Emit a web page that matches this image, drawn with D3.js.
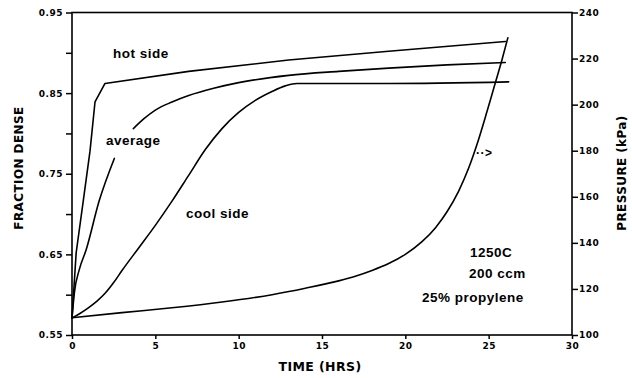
<!DOCTYPE html>
<html><head><meta charset="utf-8">
<script src="https://cdn.jsdelivr.net/npm/d3@7"></script>
<style>
html,body{margin:0;padding:0;background:#fff;}
svg{display:block;}
</style></head>
<body>
<svg id="c" width="632" height="378"></svg>
<script>
// ---- data ----
const xTicks = [0, 5, 10, 15, 20, 25, 30];
const leftMajorTicks = [0.55, 0.65, 0.75, 0.85, 0.95];
const leftMinorTicks = [0.60, 0.70, 0.80, 0.90];
const rightTicks = [100, 120, 140, 160, 180, 200, 220, 240];

const hotTime  = [0, 0.25, 0.68, 1.08, 1.38, 1.98, 7, 13, 19, 26.0];
const hotDense = [0.571, 0.652, 0.717, 0.778, 0.839, 0.862, 0.877, 0.891, 0.902, 0.914];

// null marks the break in the line where the "average" label sits
const avgTime  = [0, 0.14, 0.45, 0.84, 1.64, 2.54, 3.1, 3.68, 4.3, 5, 6, 7, 8.5, 10, 13, 16, 19, 22.5, 26.0];
const avgDense = [0.571, 0.602, 0.632, 0.655, 0.717, 0.769, null, 0.806, 0.818, 0.829, 0.839, 0.847, 0.856, 0.863, 0.872, 0.877, 0.881, 0.885, 0.888];

const coolTime  = [0, 0.5, 1, 1.5, 2, 2.5, 3, 4, 5, 6, 7, 8, 9, 10, 11, 12, 12.8, 13.5, 19, 26.2];
const coolDense = [0.571, 0.577, 0.584, 0.592, 0.602, 0.615, 0.630, 0.658, 0.686, 0.716, 0.748, 0.780, 0.806, 0.826, 0.841, 0.852, 0.859, 0.862, 0.862, 0.864];

const presTime = [0, 3, 6, 9, 12, 14, 16, 17, 18, 19, 20, 21, 21.8, 22.5, 23.2, 23.8, 24.4, 24.9, 25.4, 25.8, 26.15];
const presKPa  = [107.5, 109.7, 111.8, 114.3, 117.5, 120.3, 123.5, 125.5, 128, 131, 135, 140.5, 146.5, 153.5, 162.5, 172.5, 185, 197, 209.5, 219.5, 229];

const curveLabels = ["hot side", "average", "cool side"];
const noteLines = ["1250C", "200 ccm", "25% propylene"];
const arrowText = "··>";

// ---- layout ----
const svg = d3.select("#c");
const X0 = 72, X1 = 572, Y0 = 335, Y1 = 12.5;
const x = d3.scaleLinear().domain([0, 30]).range([X0, X1]);
const yL = d3.scaleLinear().domain([0.55, 0.95]).range([Y0, Y1]);
const yR = d3.scaleLinear().domain([100, 240]).range([Y0, Y1]);

const tickFont = "'DejaVu Sans', sans-serif";
const labFont = "'Liberation Sans', Arial, sans-serif";

// frame
svg.append("rect").attr("x", X0).attr("y", Y1).attr("width", X1 - X0).attr("height", Y0 - Y1)
  .attr("fill", "none").attr("stroke", "#000").attr("stroke-width", 1.6);

function styleAxis(g) {
  g.select(".domain").remove();
  g.selectAll(".tick line").attr("stroke", "#000").attr("stroke-width", 1.5);
  g.selectAll(".tick text").attr("fill", "#000").attr("font-family", tickFont)
    .attr("font-weight", "bold").attr("font-size", 9).attr("letter-spacing", 0.5);
}

// bottom axis
svg.append("g").attr("transform", `translate(0,${Y0})`)
  .call(d3.axisBottom(x).tickValues(xTicks).tickSize(4).tickPadding(4).tickFormat(d3.format("d")))
  .call(styleAxis);

// left axis
svg.append("g").attr("transform", `translate(${X0},0)`)
  .call(d3.axisLeft(yL).tickValues(leftMajorTicks).tickSize(6).tickPadding(3).tickFormat(d3.format(".2f")))
  .call(styleAxis);
svg.append("g").attr("transform", `translate(${X0},0)`)
  .call(d3.axisLeft(yL).tickValues(leftMinorTicks).tickSize(6).tickFormat(""))
  .call(styleAxis);

// right axis
svg.append("g").attr("transform", `translate(${X1},0)`)
  .call(d3.axisRight(yR).tickValues(rightTicks).tickSize(6).tickPadding(1).tickFormat(d3.format("d")))
  .call(styleAxis);

// axis titles
const titleStyle = s => s.attr("font-family", tickFont).attr("font-weight", "bold")
  .attr("font-size", 12).attr("letter-spacing", 0.4).attr("fill", "#000").attr("text-anchor", "middle");
svg.append("text").text("FRACTION DENSE").call(titleStyle)
  .attr("transform", "translate(23,168) rotate(-90)");
svg.append("text").text("PRESSURE (kPa)").call(titleStyle)
  .attr("transform", "translate(626,173) rotate(-90)");
svg.append("text").text("TIME (HRS)").call(titleStyle).attr("font-size", 12.5)
  .attr("x", 320).attr("y", 371);

// curves
const zip = (a, b) => a.map((v, i) => [v, b[i]]);
const mkLineL = c => d3.line().defined(d => d[1] !== null).x(d => x(d[0])).y(d => yL(d[1])).curve(c);
const lineR = d3.line().x(d => x(d[0])).y(d => yR(d[1])).curve(d3.curveMonotoneX);

const stroke = p => p.attr("fill", "none").attr("stroke", "#000").attr("stroke-width", 1.6)
  .attr("stroke-linejoin", "round").attr("stroke-linecap", "round");
svg.append("path").datum(zip(hotTime, hotDense)).attr("d", mkLineL(d3.curveLinear)).call(stroke);
svg.append("path").datum(zip(avgTime, avgDense)).attr("d", mkLineL(d3.curveMonotoneX)).call(stroke);
svg.append("path").datum(zip(coolTime, coolDense)).attr("d", mkLineL(d3.curveMonotoneX)).call(stroke);
svg.append("path").datum(zip(presTime, presKPa)).attr("d", lineR).call(stroke);

// labels
const labStyle = s => s.attr("font-family", labFont).attr("font-weight", "bold")
  .attr("font-size", 13.5).attr("letter-spacing", 0.5).attr("fill", "#000");
svg.append("text").text(curveLabels[0]).call(labStyle).attr("x", 113).attr("y", 58);
svg.append("text").text(curveLabels[1]).call(labStyle).attr("x", 106).attr("y", 145);
svg.append("text").text(curveLabels[2]).call(labStyle).attr("x", 186).attr("y", 218);

svg.append("text").text(noteLines[0]).call(labStyle).attr("x", 470).attr("y", 256.5);
svg.append("text").text(noteLines[1]).call(labStyle).attr("x", 469).attr("y", 278);
svg.append("text").text(noteLines[2]).call(labStyle).attr("x", 422).attr("y", 301.5);

svg.append("text").text(arrowText).call(labStyle).attr("font-size", 12).attr("x", 476).attr("y", 156.5);
</script>
</body></html>
